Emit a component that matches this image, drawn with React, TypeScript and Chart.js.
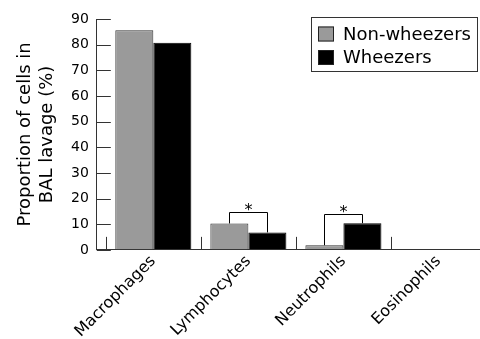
import React, { useEffect, useRef } from "react";
import { Chart, registerables } from "chart.js";

Chart.register(...registerables);

const categories = ["Macrophages", "Lymphocytes", "Neutrophils", "Eosinophils"];
const nonWheezers = [85.6, 10.3, 1.8, 0];
const wheezers = [80.7, 6.8, 10.4, 0];
const seriesLabels = ["Non-wheezers", "Wheezers"];
const seriesColors = ["#9a9a9a", "#000000"];
const yTicks = [0, 10, 20, 30, 40, 50, 60, 70, 80, 90];
const yTitle = ["Proportion of cells in", "BAL lavage (%)"];
// significance brackets: category index and bracket height (in % units)
const sigCategories = [1, 2];
const sigHeights = [14.6, 14.0];
const sigMarks = ["*", "*"];

const FONT = "'DejaVu Sans', sans-serif";
const AXIS_COLOR = "#333333";

const overlayPlugin = {
  id: "overlay",
  afterDatasetsDraw(chart: any) {
    const { ctx, chartArea, scales } = chart;
    const x = scales.x;
    const y = scales.y;
    ctx.save();
    ctx.strokeStyle = AXIS_COLOR;
    ctx.lineWidth = 1;
    // inward y ticks
    yTicks.forEach((v) => {
      const py = Math.round(y.getPixelForValue(v)) + 0.5;
      ctx.beginPath();
      ctx.moveTo(chartArea.left, py);
      ctx.lineTo(chartArea.left + 14, py);
      ctx.stroke();
    });
    // category boundary ticks (pointing up)
    for (let i = 0; i <= categories.length; i++) {
      const px = Math.round(x.getPixelForValue(i - 0.5)) + 0.5;
      ctx.beginPath();
      ctx.moveTo(px, chartArea.bottom);
      ctx.lineTo(px, chartArea.bottom - 13);
      ctx.stroke();
    }
    // significance brackets
    const m0 = chart.getDatasetMeta(0);
    const m1 = chart.getDatasetMeta(1);
    ctx.strokeStyle = "#000";
    sigCategories.forEach((ci, k) => {
      const b0 = m0.data[ci];
      const b1 = m1.data[ci];
      const top = Math.round(y.getPixelForValue(sigHeights[k])) + 0.5;
      const x0 = Math.round(b0.x) + 0.5;
      const x1 = Math.round(b1.x) + 0.5;
      ctx.beginPath();
      ctx.moveTo(x0, b0.y);
      ctx.lineTo(x0, top);
      ctx.lineTo(x1, top);
      ctx.lineTo(x1, b1.y);
      ctx.stroke();
      ctx.fillStyle = "#000";
      ctx.font = "16px " + FONT;
      ctx.textAlign = "center";
      ctx.textBaseline = "alphabetic";
      ctx.fillText(sigMarks[k], (x0 + x1) / 2, top + 2);
    });
    // legend box
    const lx = 311, ly = 17.5, lw = 166, lh = 54;
    ctx.strokeStyle = AXIS_COLOR;
    ctx.strokeRect(lx + 0.5, ly, lw, lh);
    ctx.font = "18px " + FONT;
    ctx.textAlign = "left";
    ctx.textBaseline = "middle";
    seriesLabels.forEach((lab, i) => {
      const cy = 34 + i * 23.5;
      ctx.fillStyle = seriesColors[i];
      ctx.fillRect(318, cy - 7.5, 16, 15);
      ctx.strokeStyle = "#222";
      ctx.strokeRect(318.5, cy - 7, 15, 14);
      ctx.fillStyle = "#000";
      ctx.fillText(lab, 343, cy + 1);
    });
    ctx.restore();
  },
};

export default function App() {
  const ref = useRef<HTMLCanvasElement | null>(null);
  useEffect(() => {
    if (!ref.current) return;
    const chart = new Chart(ref.current, {
      type: "bar",
      data: {
        datasets: [
          {
            label: seriesLabels[0],
            data: nonWheezers.map((v, i) => ({ x: i, y: v })),
            backgroundColor: seriesColors[0],
            borderColor: "#333",
            borderWidth: 1,
            barPercentage: 1,
            categoryPercentage: 0.8,
          },
          {
            label: seriesLabels[1],
            data: wheezers.map((v, i) => ({ x: i, y: v })),
            backgroundColor: seriesColors[1],
            borderColor: "#000",
            borderWidth: 1,
            barPercentage: 1,
            categoryPercentage: 0.8,
          },
        ],
      },
      options: {
        animation: false,
        responsive: false,
        layout: { padding: { left: 14, top: 19, right: 0, bottom: -4 } },
        plugins: { legend: { display: false }, tooltip: { enabled: false } },
        scales: {
          x: {
            type: "linear",
            offset: false,
            min: -0.5945,
            max: 3.437,
            afterBuildTicks: (axis: any) => {
              axis.ticks = categories.map((_, i) => ({ value: i }));
            },
            afterFit: (axis: any) => {
              axis.paddingLeft = 0;
              axis.paddingRight = 0;
            },
            ticks: {
              autoSkip: false,
              minRotation: 45,
              maxRotation: 45,
              color: "#000",
              font: { family: FONT, size: 16 },
              padding: 2,
              callback: (v: any) => categories[v] ?? "",
            },
            grid: { display: true, drawOnChartArea: false, drawTicks: false },
            border: { display: true, color: AXIS_COLOR, width: 1 },
          },
          y: {
            min: 0,
            max: 90,
            afterBuildTicks: (axis: any) => {
              axis.ticks = yTicks.map((v) => ({ value: v }));
            },
            ticks: {
              color: "#000",
              font: { family: FONT, size: 14 },
              padding: 8,
            },
            grid: { display: true, drawOnChartArea: false, drawTicks: false },
            border: { display: true, color: AXIS_COLOR, width: 1 },
            title: {
              display: true,
              text: yTitle,
              color: "#000",
              font: { family: FONT, size: 18, lineHeight: 22 / 18 },
              padding: { top: 0, bottom: 5 },
            },
          },
        },
      },
      plugins: [overlayPlugin],
    });
    return () => chart.destroy();
  }, []);
  return (
    <div style={{ position: "absolute", left: 0, top: 0, width: 480, height: 339, background: "#fff" }}>
      <canvas ref={ref} width={480} height={339} />
    </div>
  );
}
